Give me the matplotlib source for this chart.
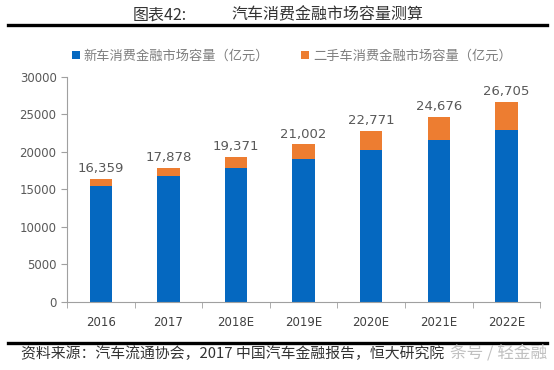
import numpy as np
import matplotlib.pyplot as plt
from matplotlib.lines import Line2D

plt.rcParams['font.family'] = ['Noto Sans CJK SC', 'DejaVu Sans']

# data
years = ['2016', '2017', '2018E', '2019E', '2020E', '2021E', '2022E']
totals = [16359, 17878, 19371, 21002, 22771, 24676, 26705]
newCar = [15500, 16800, 17800, 19050, 20300, 21600, 22950]
usedCar = [t - n for t, n in zip(totals, newCar)]

blue = '#0568C0'
orange = '#ED7D31'
grey = '#595959'

fig = plt.figure(figsize=(5.54, 3.70), dpi=100)
ax = fig.add_axes([0.121, 0.184, 0.854, 0.608])

x = np.arange(len(years))
w = 0.33
ax.bar(x, newCar, w, color=blue, label='新车消费金融市场容量（亿元）')
ax.bar(x, usedCar, w, bottom=newCar, color=orange, label='二手车消费金融市场容量（亿元）')

for xi, t in zip(x, totals):
    ax.text(xi, t + 500, f'{t:,}', ha='center', va='bottom', fontsize=9.5, color=grey,
            family='DejaVu Sans')

ax.set_xlim(-0.5, len(years) - 0.5)
ax.set_ylim(0, 30000)
ax.set_yticks(np.arange(0, 30001, 5000))
ax.set_xticks(x)
ax.set_xticklabels(years)
ax.set_xticks(np.arange(-0.5, len(years), 1), minor=True)
ax.tick_params(axis='x', which='major', length=0, pad=10, labelsize=8.5, labelcolor='#404040')
ax.tick_params(axis='x', which='minor', length=4, color='#A0A0A0')
ax.tick_params(axis='y', length=4, color='#A0A0A0', labelsize=8.5, labelcolor=grey)
for s in ['top', 'right']:
    ax.spines[s].set_visible(False)
for s in ['left', 'bottom']:
    ax.spines[s].set_color('#A0A0A0')
    ax.spines[s].set_linewidth(0.8)
for lbl in ax.get_xticklabels() + ax.get_yticklabels():
    lbl.set_family('DejaVu Sans')

ax.legend(loc='center', bbox_to_anchor=(0.475, 1.093), ncol=2, frameon=False,
          fontsize=9.5, handlelength=0.6, handleheight=0.6, handletextpad=0.3,
          columnspacing=2.4, labelcolor='#7F7F7F', borderpad=0)

# title and rules
fig.text(0.289, 0.959, '图表42:', ha='center', va='center', fontsize=11.5, color='#333333')
fig.text(0.591, 0.959, '汽车消费金融市场容量测算', ha='center', va='center', fontsize=11.5, color='#333333')
fig.add_artist(Line2D([0.015, 0.987], [0.932, 0.932], color='black', lw=2.4))
fig.add_artist(Line2D([0.015, 0.987], [0.073, 0.073], color='black', lw=2.4))
fig.text(0.038, 0.045, '资料来源：汽车流通协会，2017 中国汽车金融报告，恒大研究院', ha='left', va='center',
         fontsize=10.7, color='#333333', style='italic')
fig.text(0.987, 0.045, '条号 / 轻金融', ha='right', va='center', fontsize=12, color='#C0C0C0')

fig.savefig('out.png', dpi=100)
